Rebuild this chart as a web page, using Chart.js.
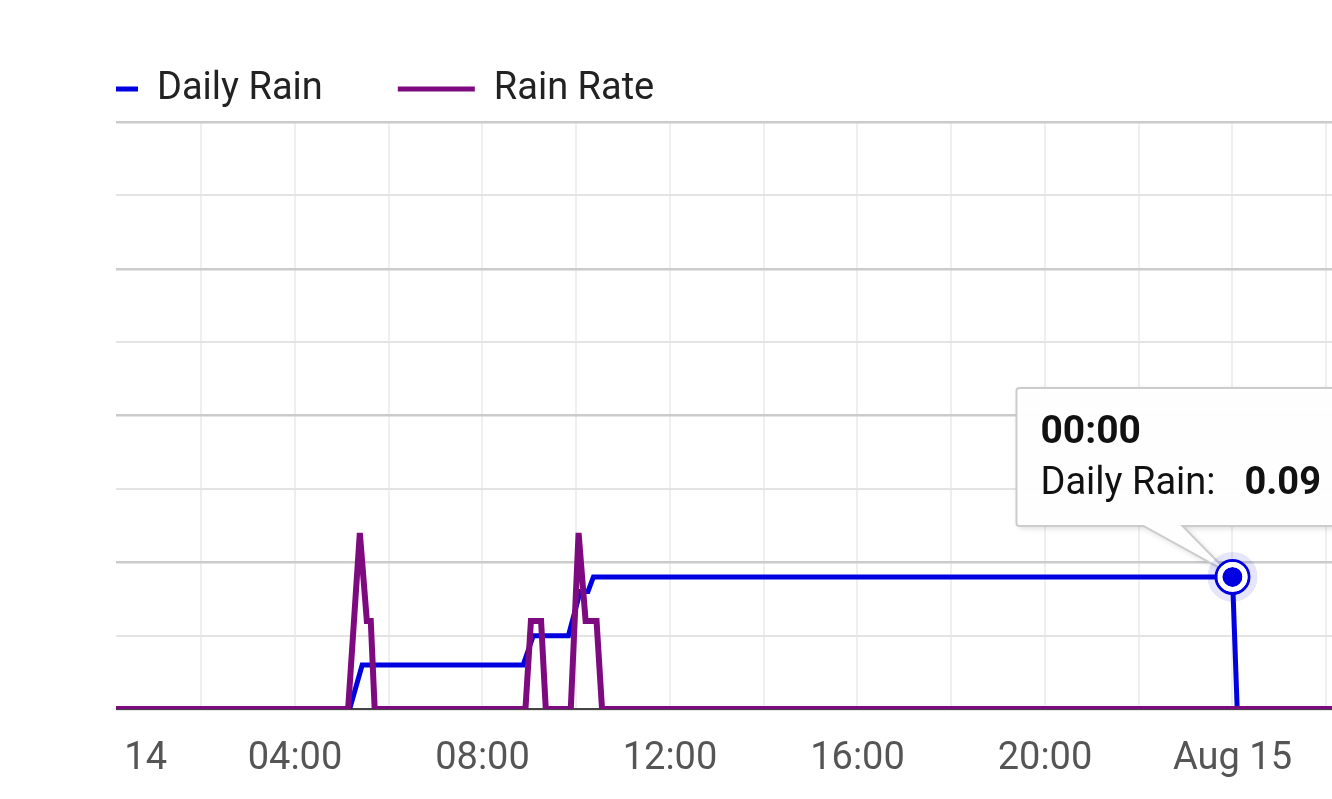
<!DOCTYPE html>
<html>
<head>
<meta charset="utf-8">
<title>Daily Rain</title>
<script src="https://cdn.jsdelivr.net/npm/chart.js@4.4.1/dist/chart.umd.min.js"></script>
<style>
    html, body { margin: 0; padding: 0; background: #fff; overflow: hidden; }
    body { width: 1332px; height: 799px; position: relative; }
    #wrap { position: absolute; left: -100px; top: -40px; width: 1550px; height: 839px; }
    #mask { position: absolute; left: 0; top: 0; width: 116px; height: 799px; background: #fff; }
</style>
</head>
<body>
<div id="wrap"><canvas id="chart-rain"></canvas></div>
<div id="mask"></div>
<script>
// data, x = minutes from Aug 14 00:00
const rainTimes = [-160, 310, 326, 532, 545, 590, 605, 615, 622, 1440, 1446, 1720];
const dailyRain = [0, 0, 0.03, 0.03, 0.05, 0.05, 0.08, 0.08, 0.09, 0.09, 0, 0];

const rateTimes = [-160, 308, 323, 332, 337, 342, 535, 542, 555, 561, 593, 603, 612, 626, 633, 1720];
const rainRate = [0, 0, 0.12, 0.06, 0.06, 0, 0, 0.06, 0.06, 0, 0, 0.12, 0.06, 0.06, 0, 0];

const seriesNames = ['Daily Rain', 'Rain Rate'];
const dayTicks = [0, 1440];
const dayLabels = ['Aug 14', 'Aug 15'];

const xMin = -155.5;
const xMax = 1718.4;
const yMax = 0.4;
const yStep = 0.05;

const pinnedIndex = rainTimes.indexOf(1440);

const blue = '#0000e0';
const purple = '#7e0a80';

Chart.defaults.font.family = 'Roboto';

function clock(min) {
    const m = ((min % 1440) + 1440) % 1440;
    return String(Math.floor(m / 60)).padStart(2, '0') + ':' + String(m % 60).padStart(2, '0');
}

// fixed legend height so the plot starts where it should
const fixedLegend = {
    id: 'fixedLegend',
    beforeLayout(chart) {
        const legend = chart.legend;
        if (!legend || legend._fixed) return;
        const fit = legend.fit;
        legend.fit = function () {
            fit.call(this);
            this.height = 127;
        };
        legend._fixed = true;
    }
};

// pinned tooltip over the midnight point
const pinnedTooltip = {
    id: 'pinnedTooltip',
    beforeDatasetsDraw(chart) {
        const pt = chart.getDatasetMeta(0).data[pinnedIndex];
        if (!pt) return;
        const ctx = chart.ctx;
        const label = seriesNames[0] + ':';
        const value = dailyRain[pinnedIndex].toFixed(2);
        const pad = 24, gap = 29;

        ctx.save();
        ctx.font = '38px Roboto';
        const lw = ctx.measureText(label).width;
        ctx.font = 'bold 38px Roboto';
        const vw = ctx.measureText(value).width;

        const w = pad * 2 + lw + gap + vw;
        const h = 138;
        const left = pt.x - 216;
        const top = pt.y - 189;
        const right = left + w;
        const bottom = top + h;
        const r = 3;

        ctx.beginPath();
        ctx.moveTo(left + r, top);
        ctx.lineTo(right - r, top);
        ctx.arcTo(right, top, right, top + r, r);
        ctx.lineTo(right, bottom - r);
        ctx.arcTo(right, bottom, right - r, bottom, r);
        ctx.lineTo(left + 166, bottom);
        ctx.lineTo(pt.x - 4, pt.y - 4);
        ctx.lineTo(left + 127, bottom);
        ctx.lineTo(left + r, bottom);
        ctx.arcTo(left, bottom, left, bottom - r, r);
        ctx.lineTo(left, top + r);
        ctx.arcTo(left, top, left + r, top, r);
        ctx.closePath();

        ctx.shadowColor = 'rgba(0, 0, 0, 0.16)';
        ctx.shadowBlur = 6;
        ctx.shadowOffsetX = 2;
        ctx.shadowOffsetY = 2;
        ctx.fillStyle = 'rgba(255, 255, 255, 0.97)';
        ctx.fill();
        ctx.shadowColor = 'transparent';
        ctx.strokeStyle = '#cccccc';
        ctx.lineWidth = 2;
        ctx.stroke();

        ctx.fillStyle = '#111111';
        ctx.textBaseline = 'middle';
        ctx.font = 'bold 39px Roboto';
        ctx.fillText(clock(rainTimes[pinnedIndex]), left + pad, top + 45);
        ctx.font = '38px Roboto';
        ctx.fillText(label, left + pad, top + 97);
        ctx.font = 'bold 38px Roboto';
        ctx.fillText(value, left + pad + lw + gap, top + 97);
        ctx.restore();
    },
    afterDatasetsDraw(chart) {
        const pt = chart.getDatasetMeta(0).data[pinnedIndex];
        if (!pt) return;
        const ctx = chart.ctx;
        ctx.save();
        ctx.beginPath();
        ctx.arc(pt.x, pt.y, 21.5, 0, Math.PI * 2);
        ctx.lineWidth = 7;
        ctx.strokeStyle = 'rgba(0, 0, 220, 0.1)';
        ctx.stroke();
        ctx.beginPath();
        ctx.arc(pt.x, pt.y, 16.5, 0, Math.PI * 2);
        ctx.lineWidth = 3;
        ctx.strokeStyle = blue;
        ctx.stroke();
        ctx.beginPath();
        ctx.arc(pt.x, pt.y, 12.5, 0, Math.PI * 2);
        ctx.lineWidth = 5;
        ctx.strokeStyle = '#ffffff';
        ctx.stroke();
        ctx.restore();
    }
};

const chartRain = document.getElementById('chart-rain');

new Chart(chartRain, {
    type: 'line',
    data: {
        datasets: [{
            label: seriesNames[0],
            data: rainTimes.map((t, i) => ({ x: t, y: dailyRain[i] })),
            borderColor: blue,
            backgroundColor: blue,
            borderWidth: 5,
            pointRadius: c => c.dataIndex === pinnedIndex ? 10 : 0,
            pointBackgroundColor: blue,
            pointBorderWidth: 0,
            order: 1
        }, {
            label: seriesNames[1],
            data: rateTimes.map((t, i) => ({ x: t, y: rainRate[i] })),
            borderColor: purple,
            backgroundColor: purple,
            borderWidth: 6,
            pointRadius: 0,
            order: 0
        }]
    },

    options: {
        responsive: true,
        maintainAspectRatio: false,
        animation: false,
        events: [],
        layout: {
            autoPadding: false,
            padding: { left: 86, top: 35, right: 0, bottom: 0 }
        },
        scales: {
            x: {
                type: 'linear',
                min: xMin,
                max: xMax,
                afterBuildTicks(scale) {
                    const ticks = [];
                    for (let v = Math.ceil(scale.min / 120) * 120; v <= scale.max; v += 120) {
                        ticks.push({ value: v });
                    }
                    scale.ticks = ticks;
                },
                afterFit(scale) {
                    scale.paddingLeft = 0;
                    scale.paddingRight = 0;
                    scale.height = 90;
                },
                grid: {
                    color: '#efefef',
                    lineWidth: 2,
                    drawTicks: false
                },
                border: { display: true, color: '#444444', width: 2 },
                ticks: {
                    autoSkip: false,
                    maxRotation: 0,
                    padding: 28,
                    color: '#555555',
                    font: { size: 38 },
                    callback(value) {
                        if (value % 240 !== 0) return '';
                        const d = dayTicks.indexOf(value);
                        return d >= 0 ? dayLabels[d] : clock(value);
                    }
                }
            },
            y: {
                min: 0,
                max: yMax,
                afterFit(scale) {
                    scale.width = 0;
                    scale.paddingTop = 0;
                    scale.paddingBottom = 0;
                },
                ticks: { display: false, stepSize: yStep },
                grid: {
                    drawTicks: false,
                    lineWidth: c => Math.round(c.tick.value / yStep) % 2 === 0 ? 2.5 : 2,
                    color: c => Math.round(c.tick.value / yStep) % 2 === 0 ? '#cbcbcb' : '#e4e4e4'
                },
                border: { display: false }
            }
        },
        plugins: {
            legend: {
                position: 'top',
                align: 'start',
                labels: {
                    boxWidth: 77,
                    boxHeight: 5,
                    padding: 75,
                    color: '#222222',
                    font: { size: 38 },
                    sort: (a, b) => a.datasetIndex - b.datasetIndex,
                    generateLabels: chart => Chart.defaults.plugins.legend.labels.generateLabels(chart)
                        .map(item => Object.assign(item, { lineWidth: 0 }))
                }
            },
            tooltip: { enabled: false }
        }
    },
    plugins: [fixedLegend, pinnedTooltip]
});
</script>
</body>
</html>
